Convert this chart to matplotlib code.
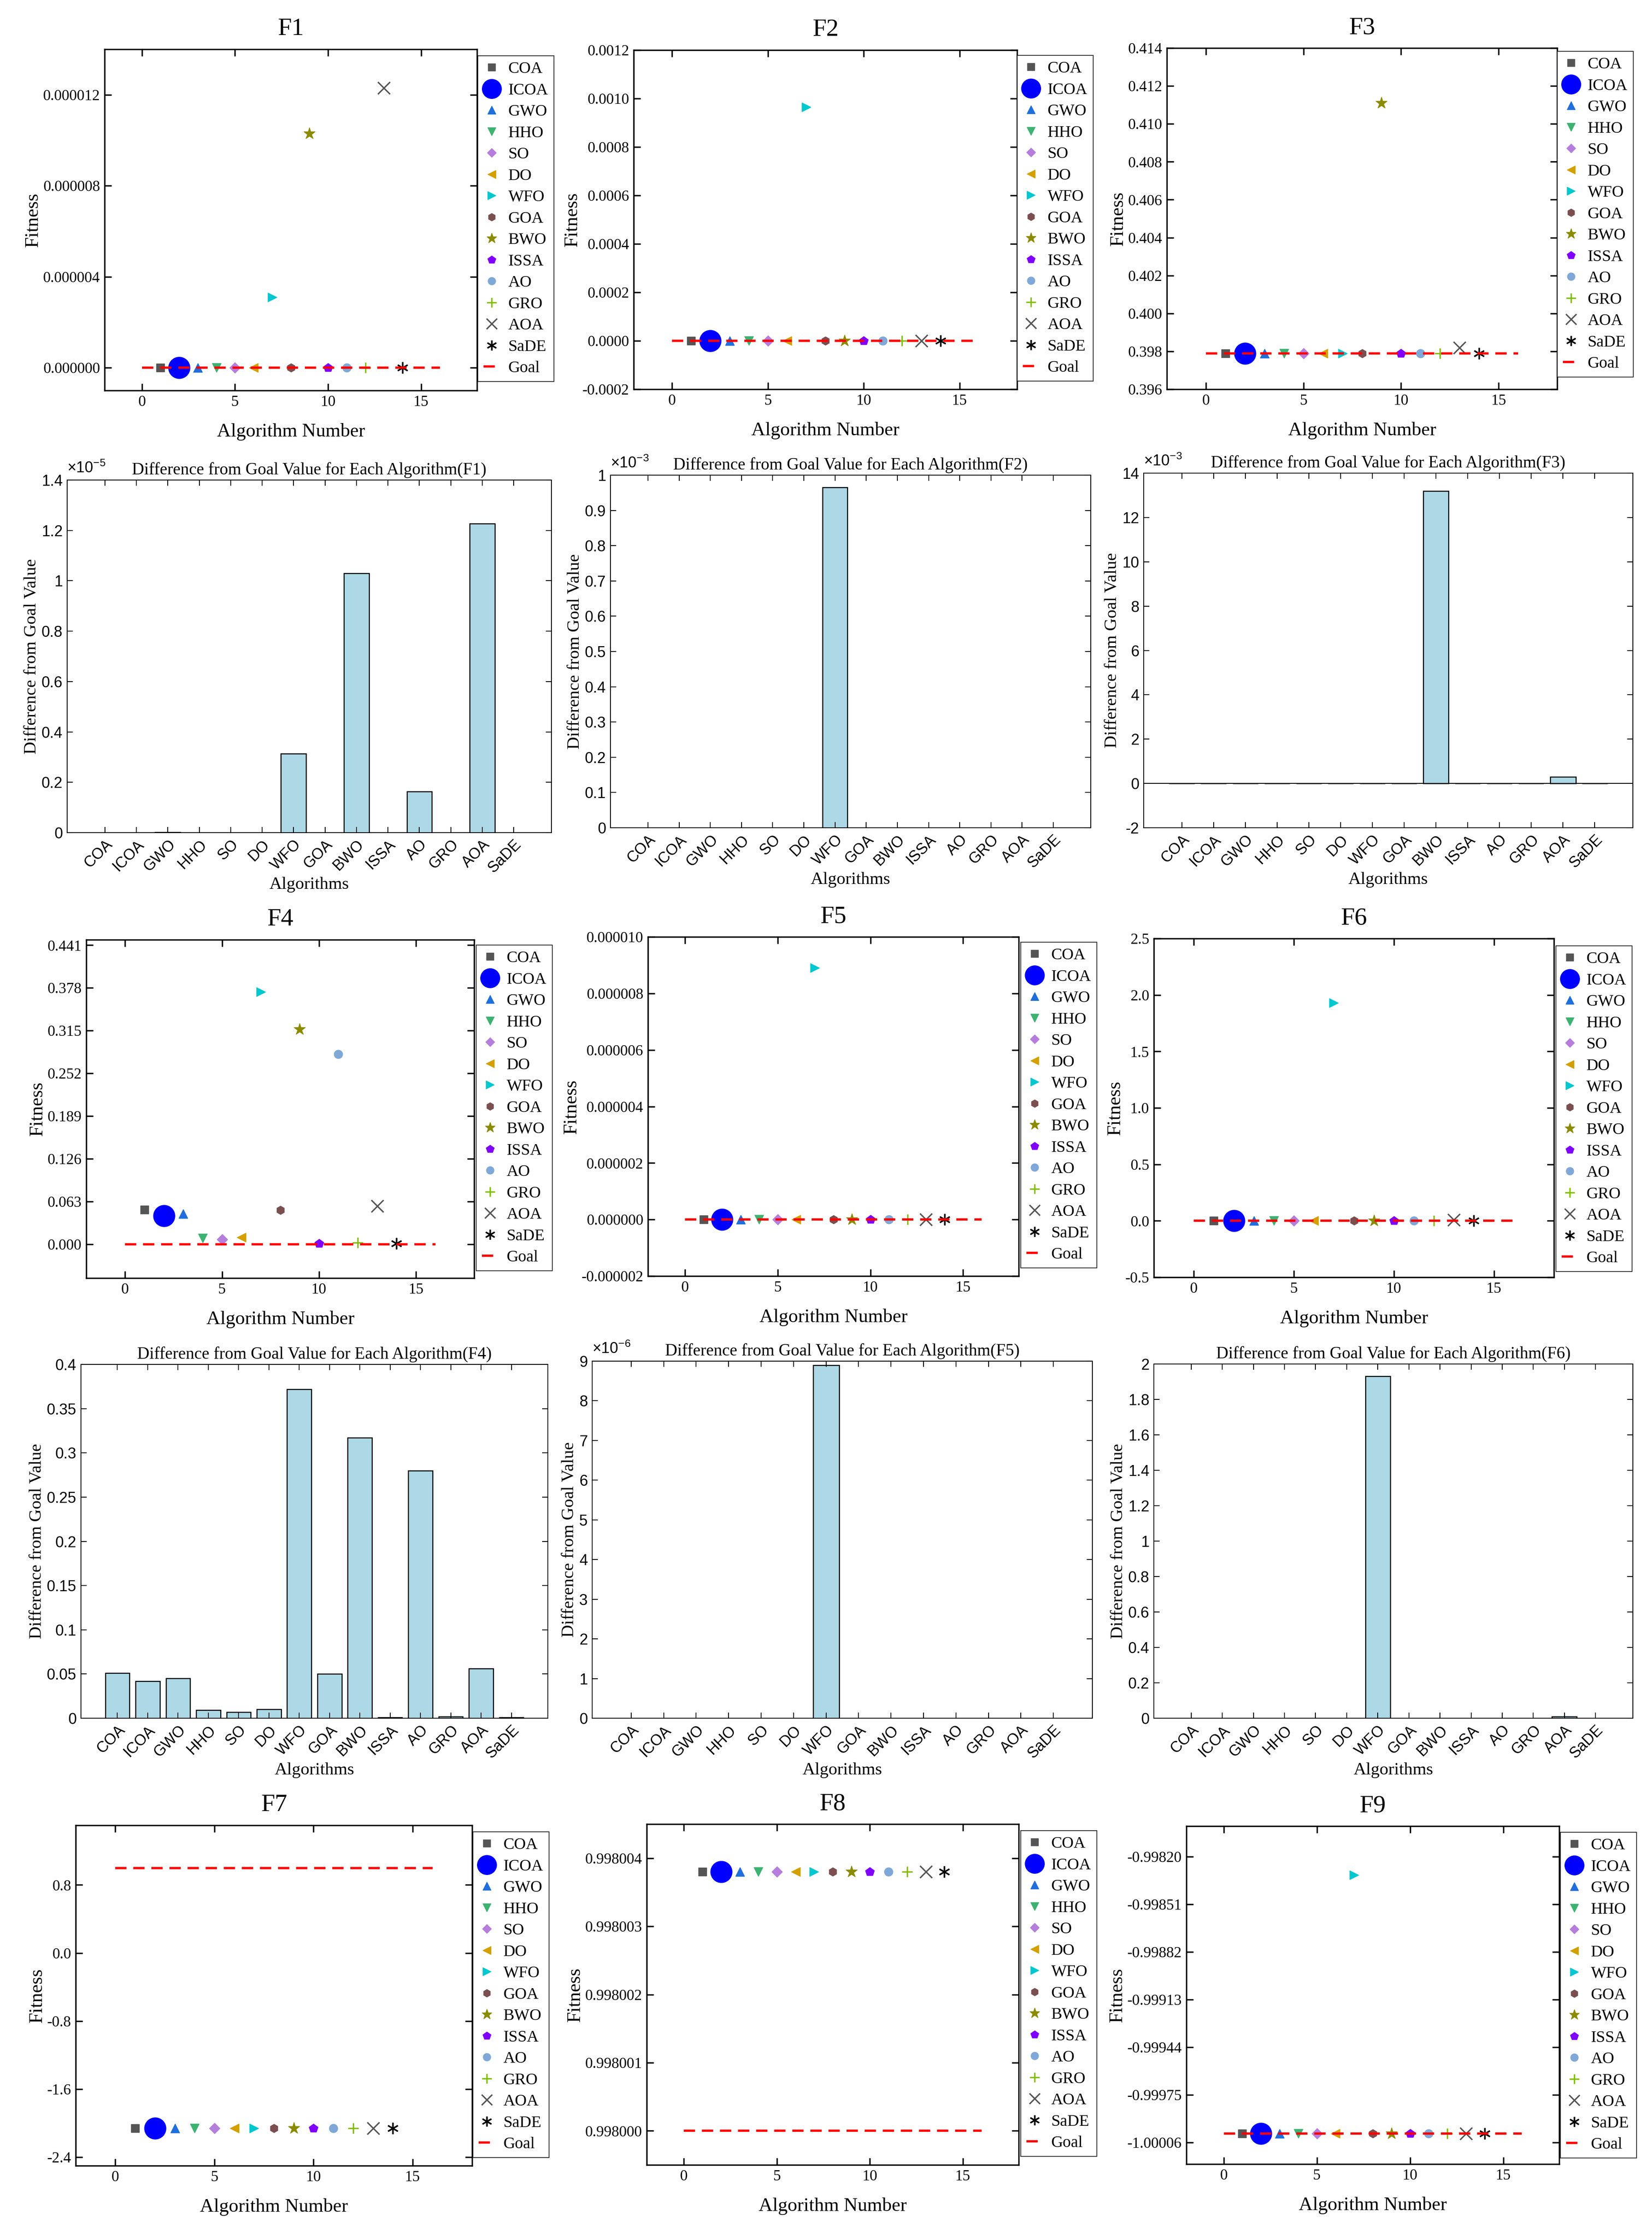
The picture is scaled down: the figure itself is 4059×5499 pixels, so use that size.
import matplotlib
matplotlib.use('Agg')
import matplotlib.pyplot as plt
import numpy as np

plt.rcParams['font.family'] = 'Liberation Serif'
plt.rcParams['mathtext.fontset'] = 'custom'
plt.rcParams['mathtext.rm'] = 'Liberation Sans'

#################################################################################
## data

algorithms = ['COA', 'ICOA', 'GWO', 'HHO', 'SO', 'DO', 'WFO', 'GOA', 'BWO',
              'ISSA', 'AO', 'GRO', 'AOA', 'SaDE']
alg_number = np.arange(1, 15)

# fitness values per function (scatter panels)
fit_f1 = [0, 0, 0, 0, 0, 0, 3.1e-6, 0, 1.03e-5, 0, 0, 0, 1.23e-5, 0]
fit_f2 = [0, 0, 0, 0, 0, 0, 9.65e-4, 0, 0, 0, 0, 0, 0, 0]
fit_f3 = [0.3979, 0.3979, 0.3979, 0.3979, 0.3979, 0.3979, 0.3979, 0.3979, 0.4111,
          0.3979, 0.3979, 0.3979, 0.3982, 0.3979]
fit_f4 = [0.051, 0.042, 0.045, 0.009, 0.007, 0.010, 0.372, 0.050, 0.317,
          0.001, 0.280, 0.002, 0.056, 0.001]
fit_f5 = [0, 0, 0, 0, 0, 0, 8.9e-6, 0, 0, 0, 0, 0, 0, 0]
fit_f6 = [0, 0, 0, 0, 0, 0, 1.93, 0, 0, 0, 0, 0, 0.01, 0]
fit_f7 = [-2.06] * 14
fit_f8 = [0.9980038] * 14
fit_f9 = [-1.0, -1.0, -1.0, -1.0, -1.0, -1.0, -0.99832, -1.0, -1.0, -1.0,
          -1.0, -1.0, -1.0, -1.0]

goal_f1, goal_f2, goal_f3 = 0.0, 0.0, 0.3979
goal_f4, goal_f5, goal_f6 = 0.0, 0.0, 0.0
goal_f7, goal_f8, goal_f9 = 1.0, 0.998, -1.0

# difference from goal (bar panels)
diff_f1 = [0, 0, 2e-8, 0, 0, 0, 3.14e-6, 0, 1.03e-5, 0, 1.63e-6, 0, 1.227e-5, 0]
diff_f2 = [0, 0, 0, 0, 0, 0, 9.65e-4, 0, 0, 0, 0, 0, 0, 0]
diff_f3 = [0, 0, 0, 0, 0, 0, 0, 0, 13.2e-3, 0, 0, 0, 0.3e-3, 0]
diff_f4 = [0.051, 0.042, 0.045, 0.009, 0.007, 0.010, 0.372, 0.050, 0.317,
           0.001, 0.280, 0.002, 0.056, 0.001]
diff_f5 = [0, 0, 0, 0, 0, 0, 8.9e-6, 0, 0, 0, 0, 0, 0, 0]
diff_f6 = [0, 0, 0, 0, 0, 0, 1.93, 0, 0, 0, 0, 0, 0.01, 0]

#################################################################################
## styles

markers = ['s', 'o', '^', 'v', 'D', '<', '>', 'h', '*', 'p', 'o', '+', 'x', (6, 2, 0)]
colors = ['#555555', '#0000ff', '#1f6fdc', '#3cb371', '#b57edc', '#d4a000',
          '#00c8d0', '#7b4f4f', '#8b8b00', '#8000ff', '#7fa8d8', '#7fbf00',
          '#555555', '#000000']
sizes = [14, 38, 16, 16, 13, 16, 16, 15, 21, 16, 15, 19, 21, 20]

W, H = 4059.0, 5499.0
fig = plt.figure(figsize=(W / 100, H / 100), dpi=100)


def box(l, r, t, b):
    return [l / W, 1 - b / H, (r - l) / W, (b - t) / H]


def scatter_panel(name, pos, leg, fit, goal, ylim, yticks, fmt):
    ax = fig.add_axes(box(*pos))
    for i in range(14):
        m = markers[i]
        ax.plot(alg_number[i], fit[i], linestyle='none', marker=m, color=colors[i],
                markersize=sizes[i], markeredgewidth=2.5 if m in ['+', 'x', (6, 2, 0)] else 1,
                label=algorithms[i])
    ax.plot([0, 16], [goal, goal], 'r--', lw=4, dashes=(5, 3), label='Goal')
    ax.set_xlim(-2, 18)
    ax.set_ylim(*ylim)
    ax.set_xticks([0, 5, 10, 15])
    ax.set_yticks(yticks)
    ax.set_yticklabels([fmt % v for v in yticks])
    ax.tick_params(direction='in', top=True, right=True, length=12, width=2.5,
                   labelsize=27, pad=8)
    for s in ax.spines.values():
        s.set_linewidth(2.5)
    ax.set_title(name, fontsize=44, pad=25)
    ax.set_xlabel('Algorithm Number', fontsize=34, labelpad=25)
    ax.set_ylabel('Fitness', fontsize=34, labelpad=2)
    lg = ax.legend(loc='upper left', bbox_to_anchor=(leg[0] / W, 1 - leg[1] / H),
                   bbox_transform=fig.transFigure, fontsize=29, frameon=True,
                   fancybox=False, edgecolor='black', labelspacing=0.38,
                   handlelength=1.0, handletextpad=0.5, borderpad=0.35,
                   borderaxespad=0, markerscale=0.9)
    lg.get_frame().set_linewidth(1.5)
    return ax


def bar_panel(name, pos, diff, scale, ylim, yticks, expo):
    ax = fig.add_axes(box(*pos))
    vals = np.array(diff) / scale
    ax.bar(alg_number, vals, width=0.8, color='#add8e6', edgecolor='black', linewidth=1.8)
    if ylim[0] < 0:
        ax.axhline(0, color='black', lw=1.5)
    ax.set_xlim(-0.2, 15.2)
    ax.set_ylim(*ylim)
    ax.set_xticks(alg_number)
    ax.set_xticklabels(algorithms, rotation=45, ha='right', rotation_mode='anchor',
                       fontfamily='Liberation Sans')
    ax.set_yticks(yticks)
    ax.set_yticklabels(['%g' % v for v in yticks], fontfamily='Liberation Sans')
    ax.tick_params(direction='in', top=True, right=True, length=10, width=1.5,
                   labelsize=27, pad=8)
    for s in ax.spines.values():
        s.set_linewidth(1.5)
    ax.set_title('Difference from Goal Value for Each Algorithm(%s)' % name, fontsize=30, pad=10)
    ax.set_xlabel('Algorithms', fontsize=31, labelpad=2)
    ax.set_ylabel('Difference from Goal Value', fontsize=31)
    if expo is not None:
        ax.text(0.0, 1.012, r'$\times10^{%d}$' % expo, transform=ax.transAxes,
                fontsize=27, ha='left', va='bottom')
    return ax


scatter_panel('F1', (257, 1172, 121, 959), (1174, 137), fit_f1, goal_f1,
              (-1e-6, 1.4e-5), [0, 4e-6, 8e-6, 12e-6], '%.6f')
scatter_panel('F2', (1557, 2499, 123, 956), (2499, 136), fit_f2, goal_f2,
              (-0.0002, 0.0012), np.arange(-0.0002, 0.00121, 0.0002), '%.4f')
scatter_panel('F3', (2867, 3826, 118, 956), (3826, 126), fit_f3, goal_f3,
              (0.396, 0.414), np.arange(0.396, 0.4141, 0.002), '%.3f')
scatter_panel('F4', (212, 1165, 2308, 3139), (1170, 2321), fit_f4, goal_f4,
              (-0.05, 0.449), np.arange(0, 0.442, 0.063), '%.3f')
scatter_panel('F5', (1592, 2503, 2301, 3134), (2508, 2314), fit_f5, goal_f5,
              (-2e-6, 1e-5), np.arange(-2e-6, 1.01e-5, 2e-6), '%.6f')
scatter_panel('F6', (2835, 3818, 2305, 3137), (3823, 2323), fit_f6, goal_f6,
              (-0.5, 2.5), np.arange(-0.5, 2.51, 0.5), '%.1f')
scatter_panel('F7', (186, 1160, 4483, 5319), (1162, 4499), fit_f7, goal_f7,
              (-2.5, 1.5), [-2.4, -1.6, -0.8, 0.0, 0.8], '%.1f')
scatter_panel('F8', (1589, 2503, 4480, 5317), (2508, 4496), fit_f8, goal_f8,
              (0.9979995, 0.9980045), [0.998, 0.998001, 0.998002, 0.998003, 0.998004], '%.6f')
scatter_panel('F9', (2915, 3831, 4485, 5315), (3834, 4500), fit_f9, goal_f9,
              (-1.0002, -0.998001), [-1.00006, -0.99975, -0.99944, -0.99913, -0.99882,
                                     -0.99851, -0.99820], '%.5f')

bar_panel('F1', (165, 1355, 1179, 2045), diff_f1, 1e-5, (0, 1.4),
          [0, 0.2, 0.4, 0.6, 0.8, 1, 1.2, 1.4], -5)
bar_panel('F2', (1500, 2680, 1167, 2033), diff_f2, 1e-3, (0, 1),
          [0, 0.1, 0.2, 0.3, 0.4, 0.5, 0.6, 0.7, 0.8, 0.9, 1], -3)
bar_panel('F3', (2810, 4012, 1162, 2033), diff_f3, 1e-3, (-2, 14),
          [-2, 0, 2, 4, 6, 8, 10, 12, 14], -3)
bar_panel('F4', (199, 1346, 3351, 4220), diff_f4, 1, (0, 0.4),
          [0, 0.05, 0.1, 0.15, 0.2, 0.25, 0.3, 0.35, 0.4], None)
bar_panel('F5', (1455, 2684, 3343, 4220), diff_f5, 1e-6, (0, 9),
          [0, 1, 2, 3, 4, 5, 6, 7, 8, 9], -6)
bar_panel('F6', (2835, 4012, 3350, 4220), diff_f6, 1, (0, 2),
          [0, 0.2, 0.4, 0.6, 0.8, 1, 1.2, 1.4, 1.6, 1.8, 2], None)

fig.savefig('out.png', dpi=100, facecolor='white')
